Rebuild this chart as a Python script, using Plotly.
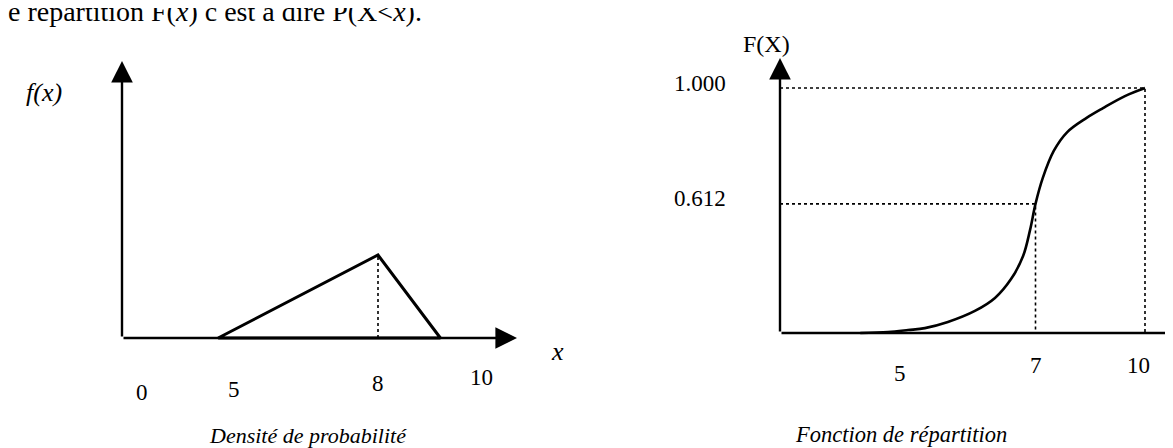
import plotly.graph_objects as go

W, H = 1173, 448

# ---------------- data ----------------
# Left panel: probability density (schematic triangle)
dens_x = [4.67, 8.0, 9.3, 4.67]
dens_y = [0.0, 0.4, 0.0, 0.0]
dens_mode_x = 8.0
dens_mode_y = 0.4
dens_tick_vals = [3.08, 5.0, 8.0, 10.15]
dens_tick_text = ["0", "5", "8", "10"]

# Right panel: distribution function F(x)
cdf_x = [2.2, 2.96, 3.51, 3.97, 4.60, 5.34, 5.89, 6.33, 6.66, 6.85, 7.0,
         7.2, 7.5, 7.87, 8.4, 8.85, 9.45, 10.0]
cdf_y = [0.0, 0.004, 0.012, 0.020, 0.045, 0.090, 0.143, 0.220, 0.314, 0.420, 0.527,
         0.633, 0.743, 0.820, 0.878, 0.918, 0.967, 1.0]
cdf_ref_x = [7.0, 10.0]
cdf_ref_y = [0.527, 1.0]
cdf_ref_text = ["0.612", "1.000"]
cdf_tick_vals = [3.29, 7.0, 9.81]
cdf_tick_text = ["5", "7", "10"]

# ---------------- layout constants ----------------
FONT = "Liberation Serif"
# left panel scale: x=5 at 226 px, 48 px/unit ; y=0 at 330 px, 207.5 px/unit
LX0, LXS = 5 - 226 / 48, 48.0
LY0, LYS = -(H - 330) / 207.5, 207.5
# right panel scale: x=0 at 772 px, 36.5 px/unit ; y=0 at 325 px, 245 px/unit
RX0, RXS = -772 / 36.5, 36.5
RY0, RYS = -(H - 325) / 245, 245.0

L_ORIGIN_X = 5 + (114 - 226) / 48
L_XTIP = 5 + (509 - 226) / 48
L_YTIP = (330 - 53) / 207.5
R_XTIP = (1180 - 772) / 36.5
R_YTIP = (325 - 50) / 245

fig = go.Figure()

# left density
fig.add_trace(go.Scatter(x=dens_x, y=dens_y, mode="lines",
                         line=dict(color="black", width=3), xaxis="x", yaxis="y",
                         hoverinfo="skip"))
fig.add_trace(go.Scatter(x=[dens_mode_x, dens_mode_x], y=[0, dens_mode_y], mode="lines",
                         line=dict(color="black", width=1.6, dash="dot"),
                         xaxis="x", yaxis="y", hoverinfo="skip"))

# right reference dotted lines
for rx, ry in zip(cdf_ref_x, cdf_ref_y):
    fig.add_trace(go.Scatter(x=[0, rx, rx], y=[ry, ry, 0], mode="lines",
                             line=dict(color="black", width=1.6, dash="dot"),
                             xaxis="x2", yaxis="y2", hoverinfo="skip"))
# right curve
fig.add_trace(go.Scatter(x=cdf_x, y=cdf_y, mode="lines", line_shape="spline",
                         line=dict(color="black", width=2.6), xaxis="x2", yaxis="y2",
                         hoverinfo="skip"))

ann = []


def arrow(xr, yr, x0, y0, x1, y1):
    return dict(x=x1, y=y1, ax=x0, ay=y0, xref=xr, yref=yr, axref=xr, ayref=yr,
                text="", showarrow=True, arrowhead=2, arrowsize=1.8, arrowwidth=2.4,
                arrowcolor="black", standoff=0)


# axes with arrow heads
ann.append(arrow("x", "y", L_ORIGIN_X, 0, L_XTIP, 0))
ann.append(arrow("x", "y", L_ORIGIN_X, 0, L_ORIGIN_X, L_YTIP))
ann.append(arrow("x2", "y2", 0, 0, R_XTIP, 0))
ann.append(arrow("x2", "y2", 0, 0, 0, R_YTIP))

# left tick labels (hand-placed baseline offsets)
left_drop = [54, 51, 45, 39]
for v, t, d in zip(dens_tick_vals, dens_tick_text, left_drop):
    ann.append(dict(x=v, y=0, xref="x", yref="y", text=t, showarrow=False,
                    yshift=-d, font=dict(family=FONT, size=23, color="black")))
right_drop = [40, 32, 32]
for v, t, d in zip(cdf_tick_vals, cdf_tick_text, right_drop):
    ann.append(dict(x=v, y=0, xref="x2", yref="y2", text=t, showarrow=False,
                    yshift=-d, font=dict(family=FONT, size=23, color="black")))
for v, t in zip(cdf_ref_y, cdf_ref_text):
    ann.append(dict(x=0, y=v, xref="x2", yref="y2", text=t, showarrow=False,
                    xanchor="right", xshift=-52, yshift=5,
                    font=dict(family=FONT, size=23, color="black")))

def paper(px, py):
    return px / W, 1 - py / H


def ptext(px, py, text, size, italic=False, xanchor="center"):
    x, y = paper(px, py)
    return dict(x=x, y=y, xref="paper", yref="paper", text=text, showarrow=False,
                xanchor=xanchor, yanchor="middle",
                font=dict(family=FONT, size=size, color="black",
                          style="italic" if italic else "normal"))


ann.append(ptext(36, 84, "f(x)", 26, italic=True))
ann.append(ptext(549, 343, "x", 26, italic=True))
ann.append(ptext(758, 36, "F(X)", 24))
ann.append(ptext(300, 427, "Densité de probabilité", 22, italic=True))
ann.append(ptext(893, 426, "Fonction de répartition", 22.5, italic=True))
ann.append(ptext(-2, 3, "e repartition F(<i>x</i>) c est a dire P(X&lt;<i>x</i>).", 28,
                 xanchor="left"))

hidden = dict(visible=False, showgrid=False, zeroline=False, fixedrange=True)
fig.update_layout(
    width=W, height=H,
    margin=dict(l=0, r=0, t=0, b=0, pad=0),
    paper_bgcolor="white", plot_bgcolor="rgba(0,0,0,0)",
    showlegend=False,
    xaxis=dict(domain=[0, 1], range=[LX0, LX0 + W / LXS], anchor="y", **hidden),
    yaxis=dict(domain=[0, 1], range=[LY0, LY0 + H / LYS], anchor="x", **hidden),
    xaxis2=dict(domain=[0, 1], range=[RX0, RX0 + W / RXS], anchor="y2", **hidden),
    yaxis2=dict(domain=[0, 1], range=[RY0, RY0 + H / RYS], anchor="x2", **hidden),
    annotations=ann,
)

fig.write_html("out.html")
